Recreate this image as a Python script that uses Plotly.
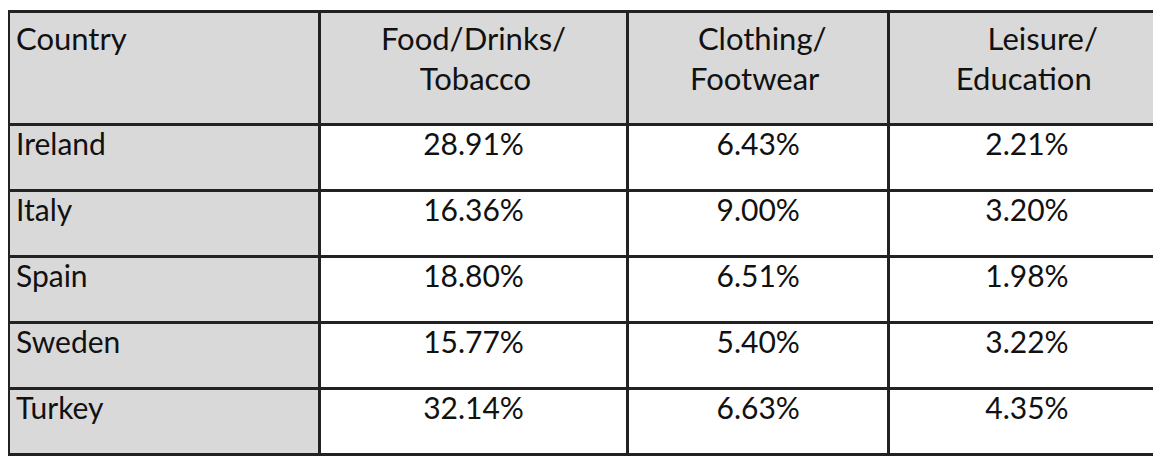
import plotly.graph_objects as go

header = ["<br>Country", "Food/Drinks/<br>&nbsp;&nbsp;&nbsp;&nbsp;&nbsp;Tobacco",
          "&nbsp;Clothing/<br>Footwear", "&nbsp;&nbsp;&nbsp;&nbsp;Leisure/<br>Education"]
countries = ["Ireland", "Italy", "Spain", "Sweden", "Turkey"]
food = ["28.91%", "16.36%", "18.80%", "15.77%", "32.14%"]
clothing = ["6.43%", "9.00%", "6.51%", "5.40%", "6.63%"]
leisure = ["2.21%", "3.20%", "1.98%", "3.22%", "4.35%"]

gray = "#d9d9d9"
fig = go.Figure(go.Table(
    columnwidth=[310, 307, 260, 275],
    header=dict(values=header, fill_color=gray, line=dict(color="#222", width=3),
                align=["left", "center", "center", "center"],
                font=dict(family="Lato", size=31, color="#111"), height=113),
    cells=dict(values=[countries, food, clothing, leisure],
               fill_color=[[gray]*5, ["white"]*5, ["white"]*5, ["white"]*5],
               line=dict(color="#222", width=3),
               align=["left", "center", "center", "center"],
               font=dict(family="Lato", size=30, color="#111"), height=66),
))
fig.update_layout(width=1161, height=458, margin=dict(l=0, r=4, t=3, b=0),
                  paper_bgcolor="white")
fig.write_html("out.html")
